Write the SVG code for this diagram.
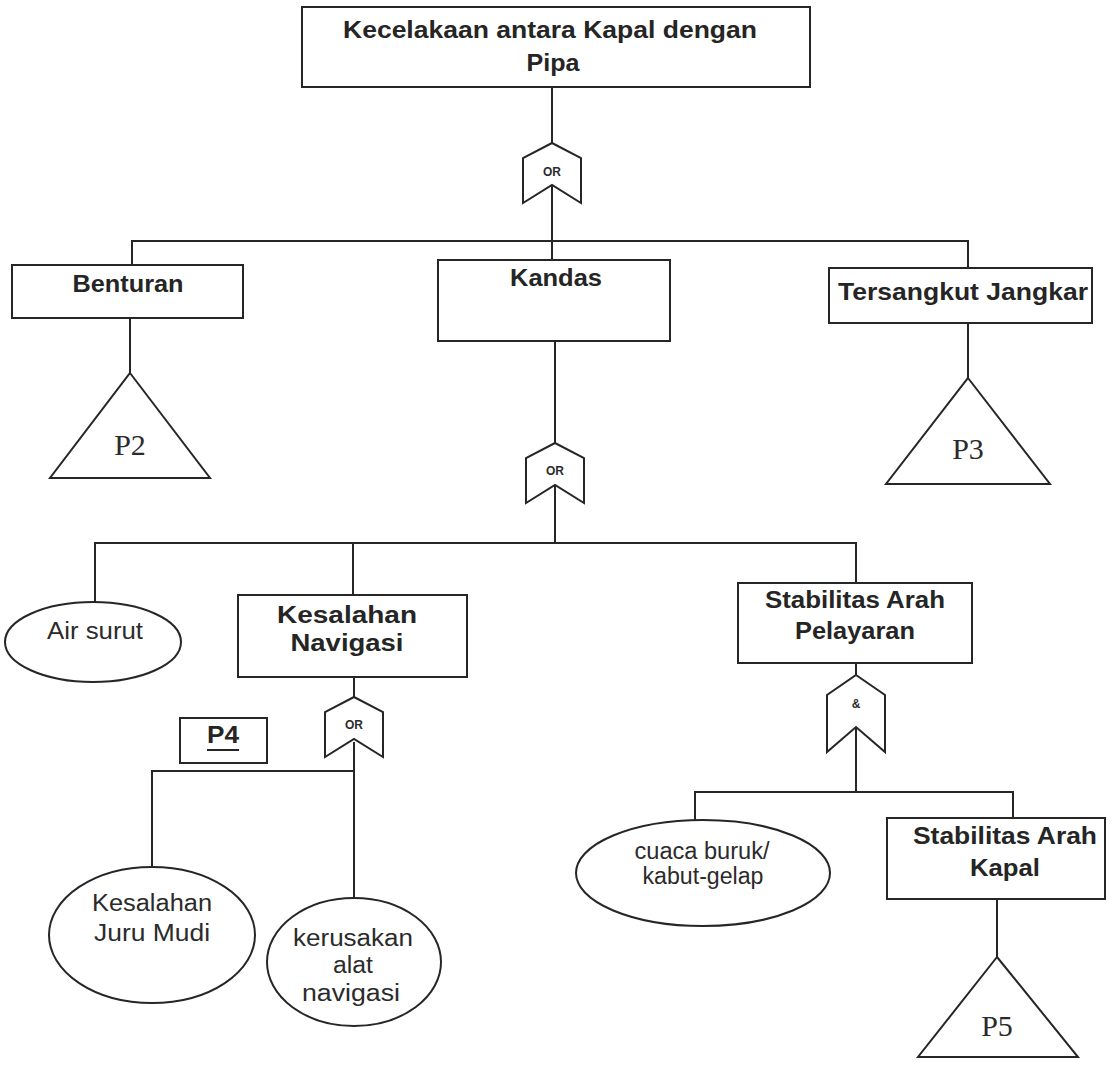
<svg xmlns="http://www.w3.org/2000/svg" width="1119" height="1066" viewBox="0 0 1119 1066">
  <style>
    .box { fill: #fff; stroke: #262626; stroke-width: 2; }
    .ev { fill: #fff; stroke: #262626; stroke-width: 2; }
    .gate { fill: #fff; stroke: #262626; stroke-width: 2; stroke-linejoin: miter; }
    .wire { fill: none; stroke: #262626; stroke-width: 2; }
    .lb { font-family: "Liberation Sans", Arial, sans-serif; font-weight: bold; font-size: 23px; fill: #252525; text-anchor: middle; }
    .lr { font-family: "Liberation Sans", Arial, sans-serif; font-size: 23px; fill: #2b2b2b; text-anchor: middle; }
    .gt { font-family: "Liberation Sans", Arial, sans-serif; font-weight: bold; font-size: 12px; fill: #2b2b2b; text-anchor: middle; }
    .tri { font-family: "Liberation Serif", "Times New Roman", serif; font-size: 30px; fill: #2b2b2b; text-anchor: middle; }
  </style>
  <defs>
    <!-- OR gate outline, apex at origin -->
    <path id="orGate" d="M0,0 L29,15 L29,60 L0,42 L-29,60 L-29,15 Z"/>
  </defs>
  <rect width="1119" height="1066" fill="#fff"/>

  <g id="connectors">
    <!-- top event to first OR gate and its bus -->
    <line class="wire" x1="552" y1="87" x2="552" y2="143"/>
    <line class="wire" x1="552" y1="185" x2="552" y2="260"/>
    <polyline class="wire" points="132,265 132,241 968,241 968,268"/>
    <!-- side events to transfer triangles -->
    <line class="wire" x1="130" y1="318" x2="130" y2="373"/>
    <line class="wire" x1="968" y1="323" x2="968" y2="378"/>
    <!-- Kandas to second OR gate and its bus -->
    <line class="wire" x1="555" y1="341" x2="555" y2="443"/>
    <line class="wire" x1="555" y1="485" x2="555" y2="543"/>
    <polyline class="wire" points="95,603 95,543 856,543 856,583"/>
    <line class="wire" x1="353" y1="543" x2="353" y2="595"/>
    <!-- Kesalahan Navigasi branch -->
    <line class="wire" x1="354" y1="677" x2="354" y2="697"/>
    <line class="wire" x1="354" y1="742" x2="354" y2="898"/>
    <polyline class="wire" points="152,867 152,771 354,771"/>
    <!-- Stabilitas Arah Pelayaran branch -->
    <line class="wire" x1="856" y1="663" x2="856" y2="675"/>
    <line class="wire" x1="856" y1="727" x2="856" y2="792"/>
    <polyline class="wire" points="695,820 695,792 1013,792 1013,818"/>
    <line class="wire" x1="997" y1="899" x2="997" y2="957"/>
  </g>

  <g id="top-event">
    <rect class="box" x="302" y="7" width="508" height="80"/>
    <text class="lb" x="550" y="38" textLength="414" lengthAdjust="spacingAndGlyphs">Kecelakaan antara Kapal dengan</text>
    <text class="lb" x="553" y="71" textLength="53" lengthAdjust="spacingAndGlyphs">Pipa</text>
  </g>

  <g id="gate-or-1">
    <use href="#orGate" class="gate" x="552" y="143"/>
    <text class="gt" x="552" y="176">OR</text>
  </g>

  <g id="benturan">
    <rect class="box" x="12" y="265" width="231" height="53"/>
    <text class="lb" x="128" y="292" textLength="111" lengthAdjust="spacingAndGlyphs">Benturan</text>
  </g>

  <g id="kandas">
    <rect class="box" x="438" y="260" width="232" height="81"/>
    <text class="lb" x="556" y="286" textLength="92" lengthAdjust="spacingAndGlyphs">Kandas</text>
  </g>

  <g id="tersangkut-jangkar">
    <rect class="box" x="829" y="268" width="263" height="55"/>
    <text class="lb" x="963" y="300" textLength="250" lengthAdjust="spacingAndGlyphs">Tersangkut Jangkar</text>
  </g>

  <g id="transfer-p2">
    <polygon class="box" points="130,373 210,478 50,478"/>
    <text class="tri" x="130" y="455">P2</text>
  </g>

  <g id="transfer-p3">
    <polygon class="box" points="968,378 1050,484 886,484"/>
    <text class="tri" x="968" y="459">P3</text>
  </g>

  <g id="gate-or-2">
    <use href="#orGate" class="gate" x="555" y="443"/>
    <text class="gt" x="555" y="475">OR</text>
  </g>

  <g id="air-surut">
    <ellipse class="ev" cx="93" cy="642" rx="88" ry="40"/>
    <text class="lr" x="95" y="639" textLength="96" lengthAdjust="spacingAndGlyphs">Air surut</text>
  </g>

  <g id="kesalahan-navigasi">
    <rect class="box" x="238" y="595" width="229" height="82"/>
    <text class="lb" x="347" y="623" textLength="140" lengthAdjust="spacingAndGlyphs">Kesalahan</text>
    <text class="lb" x="347" y="651" textLength="113" lengthAdjust="spacingAndGlyphs">Navigasi</text>
  </g>

  <g id="stabilitas-arah-pelayaran">
    <rect class="box" x="738" y="583" width="234" height="80"/>
    <text class="lb" x="855" y="608" textLength="180" lengthAdjust="spacingAndGlyphs">Stabilitas Arah</text>
    <text class="lb" x="855" y="639" textLength="120" lengthAdjust="spacingAndGlyphs">Pelayaran</text>
  </g>

  <g id="gate-or-3">
    <use href="#orGate" class="gate" x="354" y="697"/>
    <text class="gt" x="354" y="729">OR</text>
  </g>

  <g id="p4">
    <rect class="box" x="180" y="718" width="87" height="45"/>
    <text class="lb" x="223" y="743" textLength="32" lengthAdjust="spacingAndGlyphs">P4</text>
    <line x1="207" y1="750" x2="239" y2="750" stroke="#252525" stroke-width="2"/>
  </g>

  <g id="gate-and">
    <path class="gate" d="M856,675 L885,695 L885,752 L856,727 L827,752 L827,695 Z"/>
    <text class="gt" x="856" y="708" font-size="11">&amp;</text>
  </g>

  <g id="kesalahan-juru-mudi">
    <ellipse class="ev" cx="152" cy="935" rx="103" ry="68"/>
    <text class="lr" x="152" y="911" textLength="120" lengthAdjust="spacingAndGlyphs">Kesalahan</text>
    <text class="lr" x="152" y="941" textLength="116" lengthAdjust="spacingAndGlyphs">Juru Mudi</text>
  </g>

  <g id="kerusakan-alat-navigasi">
    <ellipse class="ev" cx="354" cy="962" rx="87" ry="64"/>
    <text class="lr" x="353" y="946" textLength="120" lengthAdjust="spacingAndGlyphs">kerusakan</text>
    <text class="lr" x="353" y="973" textLength="40" lengthAdjust="spacingAndGlyphs">alat</text>
    <text class="lr" x="351" y="1001" textLength="98" lengthAdjust="spacingAndGlyphs">navigasi</text>
  </g>

  <g id="cuaca-buruk">
    <ellipse class="ev" cx="703" cy="873" rx="127" ry="53"/>
    <text class="lr" x="702" y="859" font-size="21" textLength="135" lengthAdjust="spacingAndGlyphs">cuaca buruk/</text>
    <text class="lr" x="703" y="884" font-size="21" textLength="121" lengthAdjust="spacingAndGlyphs">kabut-gelap</text>
  </g>

  <g id="stabilitas-arah-kapal">
    <rect class="box" x="887" y="818" width="218" height="81"/>
    <text class="lb" x="1005" y="844" textLength="184" lengthAdjust="spacingAndGlyphs">Stabilitas Arah</text>
    <text class="lb" x="1005" y="876" textLength="70" lengthAdjust="spacingAndGlyphs">Kapal</text>
  </g>

  <g id="transfer-p5">
    <polygon class="box" points="997,957 1078,1057 918,1057"/>
    <text class="tri" x="997" y="1036">P5</text>
  </g>
</svg>
